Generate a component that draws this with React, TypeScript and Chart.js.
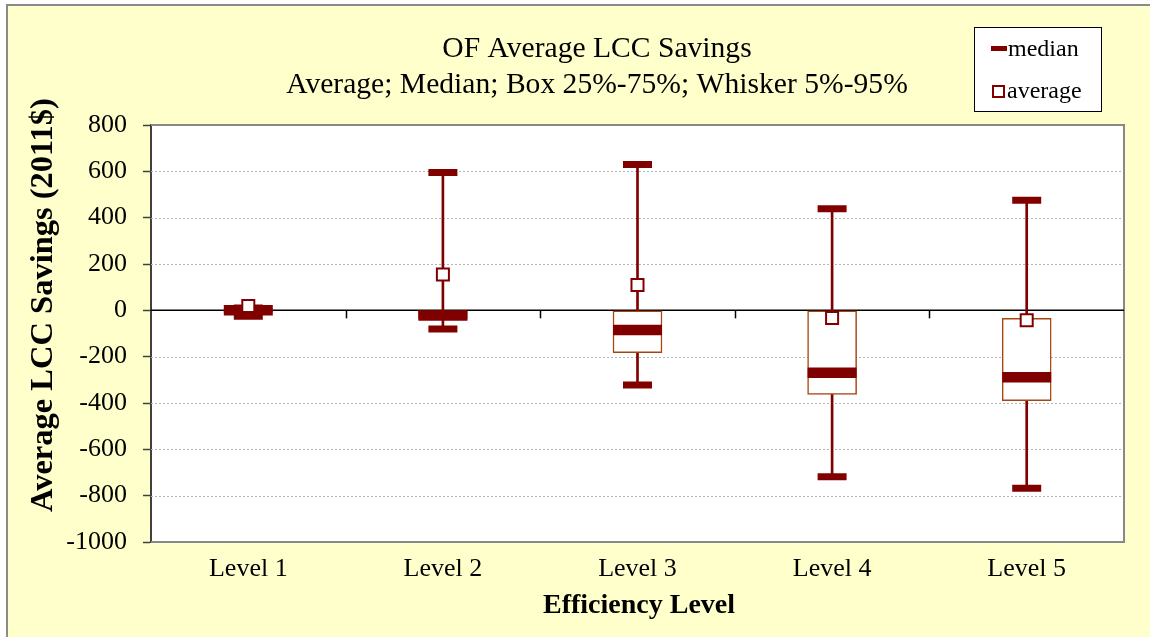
import React, { useEffect, useRef } from 'react';
import { Chart, registerables } from 'chart.js';

Chart.register(...registerables);

const categories = ['Level 1', 'Level 2', 'Level 3', 'Level 4', 'Level 5'];
const whiskerHigh = [10, 595, 629, 439, 475];
const whiskerLow = [-25, -81, -322, -718, -768];
const boxQ3 = [5, 0, 0, 0, -35];
const boxQ1 = [-8, -38, -183, -363, -390];
const medians = [0, -22, -85, -269, -289];
const averages = [19, 155, 109, -33, -43];
const yTickValues = [800, 600, 400, 200, 0, -200, -400, -600, -800, -1000];
const titleLines = ['OF Average LCC Savings', 'Average; Median; Box 25%-75%; Whisker 5%-95%'];
const yTitle = 'Average LCC Savings (2011$)';
const xTitle = 'Efficiency Level';
const legendLabels = ['median', 'average'];

const SERIF = '"Liberation Serif", "Times New Roman", serif';
const DARK_RED = '#800000';

const decor = {
  id: 'decor',
  beforeDraw(chart: any) {
    const { ctx, width, height, chartArea: a } = chart;
    ctx.save();
    ctx.fillStyle = '#ffffff';
    ctx.fillRect(0, 0, width, height);
    ctx.fillStyle = '#FFFFCC';
    ctx.fillRect(8, 6, width - 8, height - 6);
    ctx.fillStyle = '#8a8a8a';
    ctx.fillRect(6, 4, 2, height - 4);
    ctx.fillRect(6, 4, width - 6, 2);
    ctx.fillStyle = '#ffffff';
    ctx.fillRect(a.left, a.top, a.right - a.left, a.bottom - a.top);
    ctx.restore();
  },
  beforeDatasetsDraw(chart: any) {
    const { ctx, chartArea: a, scales } = chart;
    const y = scales.y;
    const x = scales.x;
    ctx.save();
    ctx.strokeStyle = '#b4b4b4';
    ctx.lineWidth = 1;
    ctx.setLineDash([2, 2]);
    for (const v of yTickValues) {
      if (v === 0 || v === yTickValues[0] || v === yTickValues[yTickValues.length - 1]) continue;
      const py = Math.round(y.getPixelForValue(v)) + 0.5;
      ctx.beginPath();
      ctx.moveTo(a.left, py);
      ctx.lineTo(a.right, py);
      ctx.stroke();
    }
    ctx.setLineDash([]);
    ctx.strokeStyle = '#888888';
    ctx.lineWidth = 2;
    ctx.beginPath();
    ctx.moveTo(a.left, a.top);
    ctx.lineTo(a.right, a.top);
    ctx.lineTo(a.right, a.bottom);
    ctx.lineTo(a.left, a.bottom);
    ctx.stroke();
    const y0 = y.getPixelForValue(0);
    ctx.strokeStyle = '#000000';
    ctx.lineWidth = 1.5;
    ctx.beginPath();
    ctx.moveTo(a.left, y0);
    ctx.lineTo(a.right, y0);
    ctx.stroke();
    for (let i = 0; i < categories.length - 1; i++) {
      const xm = Math.round((x.getPixelForValue(i) + x.getPixelForValue(i + 1)) / 2) + 0.5;
      ctx.beginPath();
      ctx.moveTo(xm, y0);
      ctx.lineTo(xm, y0 + 8);
      ctx.stroke();
    }
    ctx.restore();
  },
  afterDraw(chart: any) {
    const { ctx } = chart;
    ctx.save();
    ctx.fillStyle = '#000';
    ctx.textAlign = 'center';
    ctx.textBaseline = 'middle';
    ctx.font = `29.6px ${SERIF}`;
    ctx.fillText(titleLines[0], 597, 49);
    ctx.fillText(titleLines[1], 597, 85);

    ctx.font = `bold 28px ${SERIF}`;
    ctx.fillText(xTitle, 639, 606);

    ctx.save();
    ctx.translate(44, 305);
    ctx.rotate(-Math.PI / 2);
    ctx.font = `bold 32.5px ${SERIF}`;
    ctx.fillText(yTitle, 0, 0);
    ctx.restore();

    // legend
    ctx.fillStyle = '#ffffff';
    ctx.fillRect(975, 28, 126, 83);
    ctx.strokeStyle = '#000';
    ctx.lineWidth = 1;
    ctx.strokeRect(974.5, 27.5, 127, 84);
    ctx.fillStyle = DARK_RED;
    ctx.fillRect(991, 46, 16, 5);
    ctx.strokeStyle = DARK_RED;
    ctx.lineWidth = 2;
    ctx.strokeRect(993, 86, 11, 11);
    ctx.fillStyle = '#000';
    ctx.textAlign = 'left';
    ctx.textBaseline = 'alphabetic';
    ctx.font = `24px ${SERIF}`;
    ctx.fillText(legendLabels[0], 1008, 56);
    ctx.fillText(legendLabels[1], 1007, 98);
    ctx.restore();
  },
};

export default function App() {
  const ref = useRef<HTMLCanvasElement | null>(null);
  useEffect(() => {
    if (!ref.current) return;
    const tickFont = { family: SERIF, size: 26 };
    const chart = new Chart(ref.current, {
      type: 'bar',
      data: {
        labels: categories,
        datasets: [
          {
            type: 'line',
            label: 'average',
            data: averages,
            showLine: false,
            pointStyle: 'rect',
            pointRadius: 8.5,
            pointBackgroundColor: '#ffffff',
            pointBorderColor: DARK_RED,
            pointBorderWidth: 2,
            order: 0,
          } as any,
          {
            type: 'line',
            label: 'whisker high cap',
            data: whiskerHigh,
            showLine: false,
            pointStyle: 'line',
            pointRadius: 14.5,
            pointBackgroundColor: DARK_RED,
            pointBorderColor: DARK_RED,
            pointBorderWidth: 7,
            order: 1,
          } as any,
          {
            type: 'line',
            label: 'whisker low cap',
            data: whiskerLow,
            showLine: false,
            pointStyle: 'line',
            pointRadius: 14.5,
            pointBackgroundColor: DARK_RED,
            pointBorderColor: DARK_RED,
            pointBorderWidth: 7,
            order: 1,
          } as any,
          {
            type: 'line',
            label: 'median',
            data: medians,
            showLine: false,
            pointStyle: 'line',
            pointRadius: 24.5,
            pointBackgroundColor: DARK_RED,
            pointBorderColor: DARK_RED,
            pointBorderWidth: 10.5,
            order: 2,
          } as any,
          {
            type: 'bar',
            label: 'box',
            data: categories.map((_, i) => [boxQ1[i], boxQ3[i]]),
            backgroundColor: '#ffffff',
            borderColor: '#A8450F',
            borderWidth: 1.5,
            borderSkipped: false,
            barThickness: 49,
            grouped: false,
            order: 3,
          } as any,
          {
            type: 'bar',
            label: 'whisker',
            data: categories.map((_, i) => [whiskerLow[i], whiskerHigh[i]]),
            backgroundColor: DARK_RED,
            borderWidth: 0,
            barThickness: 2,
            grouped: false,
            order: 4,
          } as any,
        ],
      },
      options: {
        responsive: false,
        animation: false,
        events: [],
        layout: { autoPadding: false, padding: { left: 0, top: 125, right: 26, bottom: 0 } },
        plugins: {
          legend: { display: false },
          title: { display: false },
          tooltip: { enabled: false },
        },
        scales: {
          x: {
            type: 'category',
            offset: true,
            grid: { display: false, drawTicks: false },
            border: { display: false },
            ticks: { font: tickFont, color: '#000', padding: 12, maxRotation: 0, autoSkip: false },
            afterFit(s: any) {
              s.height = 95;
              s.paddingLeft = 0;
              s.paddingRight = 0;
            },
          },
          y: {
            min: yTickValues[yTickValues.length - 1],
            max: yTickValues[0],
            ticks: {
              stepSize: 200,
              font: tickFont,
              color: '#000',
              padding: 16,
              callback: (v: any) => String(v),
            },
            grid: {
              drawOnChartArea: false,
              drawTicks: true,
              tickLength: 8,
              tickWidth: 1.5,
              tickColor: '#404040',
            },
            border: { display: true, color: '#404040', width: 2 },
            afterFit(s: any) {
              s.width = 151;
            },
          },
        },
      } as any,
      plugins: [decor],
    });
    return () => chart.destroy();
  }, []);
  return (
    <div style={{ position: 'absolute', left: 0, top: 0, width: 1150, height: 637 }}>
      <canvas ref={ref} width={1150} height={637} />
    </div>
  );
}
